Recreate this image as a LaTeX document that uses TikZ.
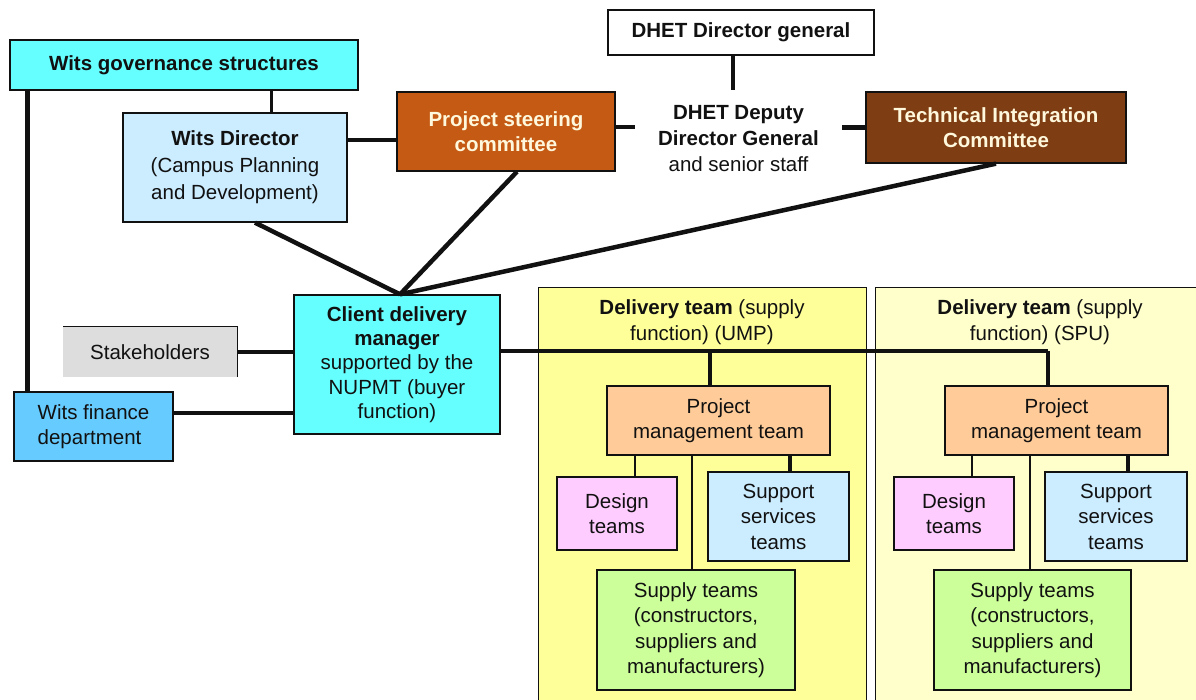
\documentclass[tikz,border=0pt]{standalone}
\usepackage{fontspec}
\setmainfont{Liberation Sans}
\usetikzlibrary{calc}
\definecolor{cyanbox}{HTML}{66FFFF}
\definecolor{paleblue}{HTML}{CCECFF}
\definecolor{finblue}{HTML}{66CCFF}
\definecolor{pscorange}{HTML}{C45A14}
\definecolor{ticbrown}{HTML}{7E3D12}
\definecolor{cream}{HTML}{FFF8DC}
\definecolor{stakegray}{HTML}{DDDDDD}
\definecolor{umpyellow}{HTML}{FFFF99}
\definecolor{spuyellow}{HTML}{FFFFCC}
\definecolor{peach}{HTML}{FFCC99}
\definecolor{pinkbox}{HTML}{FFCCFF}
\definecolor{greenbox}{HTML}{CCFF99}
\definecolor{linecol}{HTML}{111111}
\begin{document}
\begin{tikzpicture}[x=1pt,y=-1pt,
  txt/.style={font=\fontsize{20.5}{25.5}\selectfont, align=center, inner sep=0pt, text=linecol},
  box/.style={txt, draw=linecol, line width=1.3pt},
  panel/.style={draw=linecol, line width=1.3pt, anchor=north west, inner sep=0pt},
  bigline/.style={draw=linecol, line width=4.5pt},
  midline/.style={draw=linecol, line width=3.5pt},
  thinline/.style={draw=linecol, line width=2pt}
]
\useasboundingbox (0,0) rectangle (1196,700);
\fill[white] (0,0) rectangle (1196,700);

% panels
\node[panel, fill=umpyellow, minimum width=328pt, minimum height=430pt] (ump) at (538,287) {};
\node[panel, fill=spuyellow, minimum width=340pt, minimum height=430pt] (spu) at (875,287) {};
\node[txt] (umptitle) at (702,322) {\textbf{Delivery team} (supply\\function) (UMP)};
\node[txt] (sputitle) at (1040,322) {\textbf{Delivery team} (supply\\function) (SPU)};

% top left
\node[box, fill=cyanbox, minimum width=348pt, minimum height=50pt] (gov) at (184,65) {\textbf{Wits governance structures}};
\node[box, fill=paleblue, minimum width=224pt, minimum height=109pt, font=\fontsize{20.5}{27}\selectfont] (wdir) at (235,167.5) {\textbf{Wits Director}\\(Campus Planning\\and Development)};
\node[box, fill=pscorange, text=cream, minimum width=218pt, minimum height=79pt] (psc) at (506,131.5) {\textbf{Project steering}\\\textbf{committee}};
\node[box, fill=white, minimum width=266pt, minimum height=45pt] (dg) at (741,32.5) {\textbf{DHET Director general}};
\node[txt, minimum width=207pt, minimum height=98pt, font=\fontsize{20.5}{26}\selectfont] (ddg) at (738.5,139) {\textbf{DHET Deputy}\\\textbf{Director General}\\and senior staff};
\node[box, fill=ticbrown, text=cream, minimum width=260pt, minimum height=71pt] (tic) at (996,127.5) {\textbf{Technical Integration}\\\textbf{Committee}};

% client side
\node[box, fill=cyanbox, minimum width=206pt, minimum height=139pt, font=\fontsize{20.5}{24.2}\selectfont] (cdm) at (397,364.5) {\textbf{Client delivery}\\\textbf{manager}\\supported by the\\NUPMT (buyer\\function)};
\node[txt, fill=stakegray, minimum width=174pt, minimum height=50pt] (stake) at (150,352) {Stakeholders};
\draw[linecol, line width=1.3pt] (stake.south east) -- (stake.north east) -- (stake.north west);
\node[box, fill=finblue, minimum width=159pt, minimum height=69pt, align=left] (fin) at (93.5,426.5) {Wits finance\\department};

% UMP team
\node[box, fill=peach, minimum width=223pt, minimum height=69pt] (umppmt) at (718.5,420.5) {Project\\management team};
\node[box, fill=pinkbox, minimum width=120pt, minimum height=73pt] (umpdes) at (617,513.5) {Design\\teams};
\node[box, fill=paleblue, minimum width=141pt, minimum height=89pt] (umpsup) at (778.5,516.5) {Support\\services\\teams};
\node[box, fill=greenbox, minimum width=198pt, minimum height=120pt] (umpsply) at (696,630) {Supply teams\\(constructors,\\suppliers and\\manufacturers)};

% SPU team
\node[box, fill=peach, minimum width=223pt, minimum height=69pt] (spupmt) at (1056.5,420.5) {Project\\management team};
\node[box, fill=pinkbox, minimum width=120pt, minimum height=73pt] (spudes) at (954,513.5) {Design\\teams};
\node[box, fill=paleblue, minimum width=142pt, minimum height=89pt] (spusup) at (1116,516.5) {Support\\services\\teams};
\node[box, fill=greenbox, minimum width=197pt, minimum height=120pt] (spusply) at (1032.5,630) {Supply teams\\(constructors,\\suppliers and\\manufacturers)};

% connectors top
\draw[midline] ([xshift=262pt]gov.south west) coordinate (g1) -- (g1 |- wdir.north);
\draw[bigline] ([xshift=18pt]gov.south west) coordinate (l1) -- (l1 |- fin.north);
\draw[bigline] ([yshift=27.5pt]wdir.east) coordinate (w1) -- (w1 -| psc.west);
\draw[midline] ([xshift=-8pt]dg.south) coordinate (d1) -- (d1 |- ddg.north);
\draw[bigline] ([yshift=4.5pt]psc.east) coordinate (p1) -- (p1 -| ddg.west);
\draw[bigline] (tic.west) -- (tic.west -| ddg.east);
\draw[bigline] ([xshift=20pt]wdir.south) -- ([xshift=3pt]cdm.north);
\draw[bigline] ([xshift=11pt]psc.south) -- ([xshift=3pt]cdm.north);
\draw[bigline] (tic.south) -- ([xshift=3pt]cdm.north);

% client connectors
\draw[bigline] (stake.east) -- (stake.east -| cdm.west);
\draw[bigline] ([yshift=13.5pt]fin.east) coordinate (f1) -- (f1 -| cdm.west);
\coordinate (b1) at ([yshift=13.5pt]cdm.east);
\coordinate (s1) at ([xshift=-8.5pt]spupmt.north);
\coordinate (u1) at ([xshift=-8.5pt]umppmt.north);
\draw[midline] (b1) -- (b1 -| s1);
\draw[bigline] (s1 |- b1) -- (s1);
\draw[bigline] (u1 |- b1) -- (u1);

% inner UMP
\draw[thinline] ([xshift=18pt]umpdes.north) coordinate (q1) -- (q1 |- umppmt.south);
\draw[midline] ([xshift=11.5pt]umpsup.north) coordinate (q2) -- (q2 |- umppmt.south);
\draw[thinline] ([xshift=-4pt]umpsply.north) coordinate (q3) -- (q3 |- umppmt.south);
% inner SPU
\draw[thinline] ([xshift=18pt]spudes.north) coordinate (r1) -- (r1 |- spupmt.south);
\draw[midline] ([xshift=12pt]spusup.north) coordinate (r2) -- (r2 |- spupmt.south);
\draw[thinline] ([xshift=-2.5pt]spusply.north) coordinate (r3) -- (r3 |- spupmt.south);
\end{tikzpicture}
\end{document}
